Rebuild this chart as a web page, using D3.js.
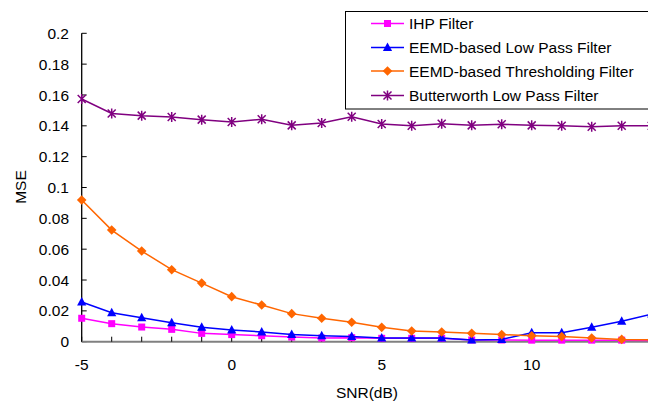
<!DOCTYPE html>
<html>
<head>
<meta charset="utf-8">
<script src="https://cdn.jsdelivr.net/npm/d3@7"></script>
<style>
  html, body { margin: 0; padding: 0; background: #fff; overflow: hidden; }
  svg { display: block; font-family: "Liberation Sans", Arial, sans-serif; }
</style>
</head>
<body>
<div id="chart"></div>
<script>
// SNR values (dB); the last one sits just past the right edge of the picture
const snr = [-5, -4, -3, -2, -1, 0, 1, 2, 3, 4, 5, 6, 7, 8, 9, 10, 11, 12, 13, 14];

const ihp = [0.0152, 0.0117, 0.0095, 0.008, 0.0054, 0.0046, 0.0039, 0.003, 0.0024, 0.0026,
  0.0022, 0.0022, 0.0022, 0.0011, 0.0011, 0.001, 0.001, 0.001, 0.001, 0.0008];
const eemdLow = [0.0257, 0.0188, 0.0156, 0.0123, 0.0093, 0.0076, 0.0063, 0.0046, 0.0039, 0.0033,
  0.0024, 0.0024, 0.0024, 0.0011, 0.0015, 0.0058, 0.0058, 0.0093, 0.0132, 0.0179];
const eemdThr = [0.0919, 0.0724, 0.0588, 0.0467, 0.038, 0.0292, 0.0238, 0.0182, 0.0152, 0.0126,
  0.0093, 0.0069, 0.0063, 0.0054, 0.0046, 0.0039, 0.0033, 0.0024, 0.0015, 0.0012];
const butter = [0.1574, 0.148, 0.1466, 0.1457, 0.144, 0.1425, 0.1442, 0.1403, 0.1418, 0.1459,
  0.1412, 0.14, 0.1414, 0.1403, 0.141, 0.1403, 0.14, 0.1394, 0.14, 0.14];

const seriesNames = ["IHP Filter", "EEMD-based Low Pass Filter",
  "EEMD-based Thresholding Filter", "Butterworth Low Pass Filter"];
const yTicks = [0, 0.02, 0.04, 0.06, 0.08, 0.1, 0.12, 0.14, 0.16, 0.18, 0.2];
const xTickLabels = [-5, 0, 5, 10];

const series = [
  { name: seriesNames[0], values: ihp, color: "#ff00ff", marker: "square" },
  { name: seriesNames[1], values: eemdLow, color: "#0000ff", marker: "triangle" },
  { name: seriesNames[2], values: eemdThr, color: "#ff6600", marker: "diamond" },
  { name: seriesNames[3], values: butter, color: "#800080", marker: "star" }
];

const W = 648, H = 403;
const plotLeft = 81.7, plotTop = 33.3, plotBottom = 341.7;

const x = d3.scaleLinear().domain([-5, 15]).range([plotLeft, plotLeft + 600]);
const y = d3.scaleLinear().domain([0, 0.2]).range([plotBottom, plotTop]);

const svg = d3.select("#chart").append("svg")
  .attr("width", W).attr("height", H);

// y axis
svg.append("line")
  .attr("x1", plotLeft).attr("x2", plotLeft).attr("y1", plotTop).attr("y2", plotBottom)
  .attr("stroke", "#000").attr("stroke-width", 1.3);
svg.selectAll(".ytick").data(yTicks).enter().append("line")
  .attr("x1", plotLeft).attr("x2", plotLeft + 5)
  .attr("y1", (d) => y(d)).attr("y2", (d) => y(d))
  .attr("stroke", "#000").attr("stroke-width", 1);
svg.selectAll(".ylab").data(yTicks).enter().append("text")
  .attr("x", 69).attr("y", (d) => y(d)).attr("dy", "0.36em")
  .attr("text-anchor", "end").attr("font-size", 15.5).attr("fill", "#000")
  .text((d) => +d.toFixed(2));

// x axis
svg.append("line")
  .attr("x1", plotLeft).attr("x2", W).attr("y1", plotBottom).attr("y2", plotBottom)
  .attr("stroke", "#808080").attr("stroke-width", 2);
svg.selectAll(".xtick").data(snr).enter().append("line")
  .attr("x1", (d) => x(d)).attr("x2", (d) => x(d))
  .attr("y1", plotBottom).attr("y2", plotBottom - 5)
  .attr("stroke", "#000").attr("stroke-width", 1);
svg.selectAll(".xlab").data(xTickLabels).enter().append("text")
  .attr("x", (d) => x(d)).attr("y", 369.5)
  .attr("text-anchor", "middle").attr("font-size", 15.5).attr("fill", "#000")
  .text((d) => d);

svg.append("text")
  .attr("x", 367).attr("y", 398)
  .attr("text-anchor", "middle").attr("font-size", 15.5)
  .text("SNR(dB)");
svg.append("text")
  .attr("transform", "translate(26,187) rotate(-90)")
  .attr("text-anchor", "middle").attr("font-size", 15.5)
  .text("MSE");

function drawMarker(g, type, color) {
  if (type === "square") {
    g.append("rect").attr("x", -3.5).attr("y", -3.5).attr("width", 7).attr("height", 7)
      .attr("fill", color);
  } else if (type === "triangle") {
    g.append("path").attr("d", "M0,-5L4.6,3.5L-4.6,3.5Z").attr("fill", color);
  } else if (type === "diamond") {
    g.append("path").attr("d", "M0,-4.8L4.8,0L0,4.8L-4.8,0Z").attr("fill", color);
  } else {
    g.append("path").attr("d", "M-4,-4L4,4M-4,4L4,-4M0,-5L0,5")
      .attr("stroke", color).attr("stroke-width", 1.5).attr("fill", "none");
  }
}

const line = d3.line().x((d) => x(d[0])).y((d) => y(d[1]));

series.forEach((s) => {
  const pts = snr.map((v, i) => [v, s.values[i]]);
  svg.append("path").datum(pts)
    .attr("d", line).attr("fill", "none")
    .attr("stroke", s.color).attr("stroke-width", 1.5);
  pts.forEach((p) => {
    const g = svg.append("g").attr("transform", `translate(${x(p[0])},${y(p[1])})`);
    drawMarker(g, s.marker, s.color);
  });
});

// legend
const legend = svg.append("g");
legend.append("rect")
  .attr("x", 345.5).attr("y", 11.5).attr("width", 320).attr("height", 97.5)
  .attr("fill", "#fff").attr("stroke", "#000").attr("stroke-width", 1);
const rowY = [23.5, 47.5, 71, 95.5];
series.forEach((s, i) => {
  const r = legend.append("g").attr("transform", `translate(0,${rowY[i]})`);
  r.append("line").attr("x1", 371).attr("x2", 404).attr("y1", 0).attr("y2", 0)
    .attr("stroke", s.color).attr("stroke-width", 1.5);
  drawMarker(r.append("g").attr("transform", "translate(387.5,0)"), s.marker, s.color);
  r.append("text").attr("x", 409).attr("y", 0).attr("dy", "0.36em")
    .attr("font-size", 15.5).text(s.name);
});
</script>
</body>
</html>
